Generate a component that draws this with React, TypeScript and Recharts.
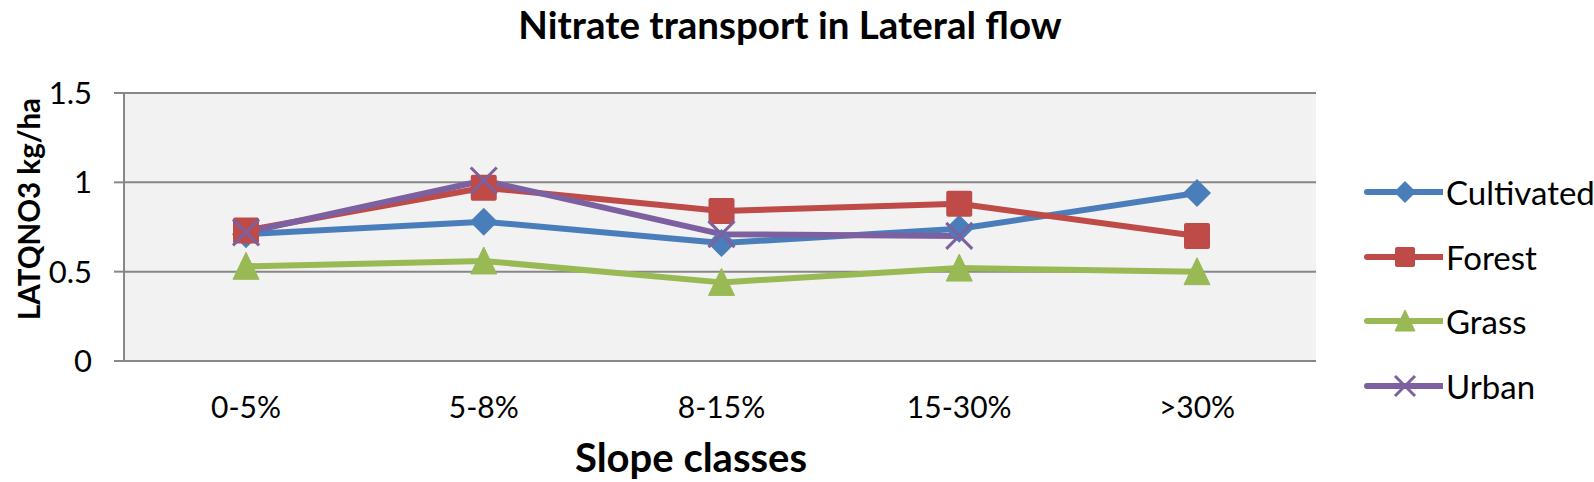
import React from 'react';
import { LineChart, Line, XAxis, YAxis, CartesianGrid } from 'recharts';

const slopeClasses = ['0-5%', '5-8%', '8-15%', '15-30%', '>30%'];
const cultivated = [0.71, 0.78, 0.66, 0.74, 0.94];
const forest = [0.73, 0.97, 0.84, 0.88, 0.7];
const grass = [0.53, 0.56, 0.44, 0.52, 0.5];
const urban = [0.72, 1.01, 0.71, 0.7, null];
const yTicks = [0, 0.5, 1, 1.5];

const FONT = 'Lato, "Open Sans", sans-serif';
const GRID = '#878787';

const series = [
  { key: 'Cultivated', color: '#4A7EBB', shape: 'diamond' },
  { key: 'Forest', color: '#BE4B48', shape: 'square' },
  { key: 'Grass', color: '#98B954', shape: 'triangle' },
  { key: 'Urban', color: '#7D60A0', shape: 'cross' }
];

const data = slopeClasses.map((name, i) => ({
  name,
  Cultivated: cultivated[i],
  Forest: forest[i],
  Grass: grass[i],
  Urban: urban[i]
}));

const Marker = ({ cx, cy, shape, color, r = 13 }: any) => {
  if (cx == null || cy == null || isNaN(cx) || isNaN(cy)) return <g />;
  if (shape === 'diamond') {
    return <polygon points={`${cx},${cy - r - 1} ${cx + r + 1},${cy} ${cx},${cy + r + 1} ${cx - r - 1},${cy}`} fill={color} />;
  }
  if (shape === 'square') {
    return <rect x={cx - r} y={cy - r} width={2 * r} height={2 * r} rx={2} fill={color} />;
  }
  if (shape === 'triangle') {
    return <polygon points={`${cx},${cy - r - 1} ${cx + r},${cy + r} ${cx - r},${cy + r}`} fill={color} strokeLinejoin="round" stroke={color} strokeWidth={1} />;
  }
  return (
    <g stroke={color} strokeWidth={3}>
      <line x1={cx - r} y1={cy - r} x2={cx + r} y2={cy + r} />
      <line x1={cx - r} y1={cy + r} x2={cx + r} y2={cy - r} />
    </g>
  );
};

// legend kept outside the chart so it doesn't eat into the plot width
const ChartLegend = () => (
  <div style={{ position: 'absolute', left: 1363, top: 160, fontFamily: FONT, fontSize: 33, color: '#000' }}>
    {series.map((s) => (
      <div key={s.key} style={{ display: 'flex', alignItems: 'center', height: 64.5, whiteSpace: 'nowrap' }}>
        <svg width={80} height={30} style={{ marginRight: 3 }}>
          <line x1={4} y1={15} x2={79} y2={15} stroke={s.color} strokeWidth={6} strokeLinecap="round" />
          <Marker cx={42} cy={15} shape={s.shape} color={s.color} r={10} />
        </svg>
        <span>{s.key}</span>
      </div>
    ))}
  </div>
);

const App = () => {
  return (
    <div style={{ position: 'absolute', left: 0, top: 0, width: 1594, height: 482, background: '#fff', overflow: 'hidden' }}>
      <svg width={1594} height={80} style={{ position: 'absolute', left: 0, top: 0 }}>
        <text x={790} y={39} textAnchor="middle" fontFamily={FONT} fontWeight="bold" fontSize={38.5} fill="#000">
          Nitrate transport in Lateral flow
        </text>
      </svg>
      <LineChart
        width={1594}
        height={482}
        data={data}
        margin={{ top: 93, right: 278, left: 0, bottom: 61 }}
        style={{ position: 'absolute', left: 0, top: 0 }}
      >
        <CartesianGrid vertical={false} fill="#F2F2F2" stroke={GRID} strokeWidth={2} />
        <XAxis
          dataKey="name"
          height={60}
          padding={{ left: 122, right: 119 }}
          tickLine={false}
          tickSize={0}
          tickMargin={36}
          axisLine={{ stroke: GRID, strokeWidth: 2 }}
          tick={{ fill: '#000', fontSize: 30, fontFamily: FONT }}
          interval={0}
          label={{
            content: () => (
              <text x={691} y={472} textAnchor="middle" fontFamily={FONT} fontWeight="bold" fontSize={40} fill="#000">
                Slope classes
              </text>
            )
          }}
        />
        <YAxis
          width={124}
          domain={[0, 1.5]}
          ticks={yTicks}
          tickSize={10}
          tickMargin={22}
          tickLine={{ stroke: GRID, strokeWidth: 2 }}
          axisLine={{ stroke: GRID, strokeWidth: 2 }}
          tick={{ fill: '#000', fontSize: 31, fontFamily: FONT }}
          tickFormatter={(v: number) => String(v)}
          label={{
            content: () => (
              <text
                x={28}
                y={209}
                transform="rotate(-90, 28, 209)"
                textAnchor="middle"
                dominantBaseline="central"
                fontFamily={FONT}
                fontWeight="bold"
                fontSize={29.5}
                fill="#000"
              >
                LATQNO3 kg/ha
              </text>
            )
          }}
        />
        {series.map((s) => (
          <Line
            key={s.key}
            type="linear"
            dataKey={s.key}
            stroke={s.color}
            strokeWidth={6}
            strokeLinejoin="round"
            activeDot={false}
            isAnimationActive={false}
            dot={(p: any) => <Marker key={`${s.key}-${p.index}`} cx={p.cx} cy={p.cy} shape={s.shape} color={s.color} />}
          />
        ))}
      </LineChart>
      <ChartLegend />
    </div>
  );
};

export default App;
